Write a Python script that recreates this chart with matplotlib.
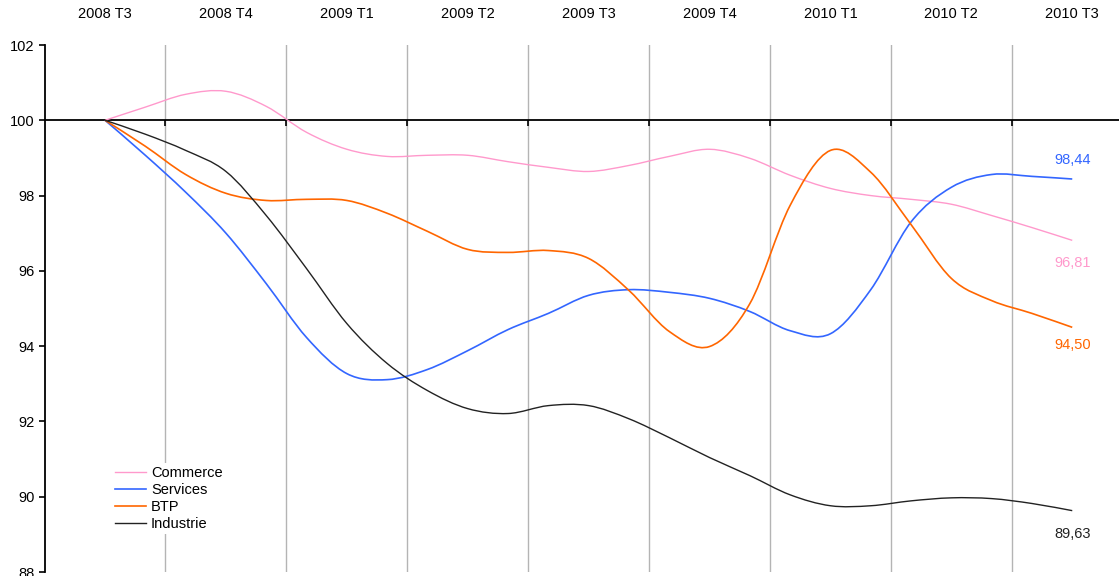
import numpy as np
import matplotlib
matplotlib.use("Agg")
import matplotlib.pyplot as plt
from matplotlib.path import Path
from matplotlib.patches import PathPatch
from matplotlib.lines import Line2D

plt.rcParams['font.family'] = ['Liberation Sans', 'DejaVu Sans']

# Trimestres (labels en haut) et mois
quarters = ["2008 T3", "2008 T4", "2009 T1", "2009 T2", "2009 T3",
            "2009 T4", "2010 T1", "2010 T2", "2010 T3"]
months = np.arange(25)

# Indices mensuels (base 100 = 2008 T3)
commerce = [100.00, 100.35, 100.69, 100.77, 100.37, 99.68, 99.23, 99.04, 99.07,
            99.07, 98.90, 98.75, 98.64, 98.80, 99.04, 99.23, 98.99, 98.54,
            98.19, 98.00, 97.90, 97.77, 97.47, 97.15, 96.81]
services = [100.00, 99.07, 98.09, 97.00, 95.66, 94.23, 93.27, 93.11, 93.38,
            93.88, 94.44, 94.87, 95.35, 95.50, 95.43, 95.27, 94.92, 94.41,
            94.33, 95.50, 97.30, 98.22, 98.56, 98.51, 98.44]
btp = [100.00, 99.31, 98.56, 98.06, 97.87, 97.90, 97.87, 97.53, 97.05,
       96.57, 96.49, 96.54, 96.33, 95.48, 94.39, 93.99, 95.13, 97.74,
       99.20, 98.62, 97.23, 95.80, 95.21, 94.87, 94.50]
industrie = [100.00, 99.63, 99.20, 98.64, 97.47, 96.06, 94.60, 93.54, 92.82,
             92.34, 92.21, 92.42, 92.42, 92.07, 91.57, 91.04, 90.56, 90.05,
             89.76, 89.76, 89.89, 89.97, 89.95, 89.82, 89.63]

# nom, valeurs, couleur, epaisseur, decalage du label final (points)
series = [("Commerce", commerce, "#ff99cc", 1.0, -16),
          ("Services", services, "#3366ff", 1.2, 14),
          ("BTP", btp, "#ff6600", 1.2, -13),
          ("Industrie", industrie, "#222222", 1.0, -17)]


def smooth_path(x, y):
    # courbe lissee facon Excel (Bezier Catmull-Rom passant par les points)
    pts = np.column_stack([x, y]).astype(float)
    ext = np.vstack([pts[0], pts, pts[-1]])
    verts = [pts[0]]
    codes = [Path.MOVETO]
    for i in range(len(pts) - 1):
        p0, p1, p2, p3 = ext[i], ext[i + 1], ext[i + 2], ext[i + 3]
        verts += [p1 + (p2 - p0) / 6, p2 - (p3 - p1) / 6, p2]
        codes += [Path.CURVE4] * 3
    return Path(verts, codes)


fig = plt.figure(figsize=(11.19, 5.76), dpi=100)
ax = fig.add_axes([45 / 1119, 4 / 576, 1 - 45 / 1119, (572 - 45) / 576])

handles = []
for name, vals, col, lw, off in series:
    ax.add_patch(PathPatch(smooth_path(months, vals), fill=False,
                           edgecolor=col, lw=lw, zorder=3))
    handles.append(Line2D([], [], color=col, lw=lw, label=name))
    last = f"{vals[-1]:.2f}".replace(".", ",")
    ax.annotate(last, (months[-1], vals[-1]), xytext=(0, off),
                textcoords="offset points", ha="center", va="center",
                color=col, fontsize=10.5)

ax.set_xlim(-1.49, 25.16)
ax.set_ylim(88, 102)
ax.set_yticks(np.arange(88, 103, 2))

ax.set_xticks(months[::3])
ax.set_xticklabels(quarters)
ax.set_xticks(np.arange(1.5, 24, 3), minor=True)
ax.tick_params(axis="x", which="major", bottom=False, top=False,
               labelbottom=False, labeltop=True, pad=14, labelsize=10.5)
ax.tick_params(axis="x", which="minor", bottom=True, length=4, width=1.2,
               direction="out", color="black")
ax.tick_params(axis="y", labelsize=10.5, length=4, width=1.2)
ax.grid(which="minor", axis="x", color="#b4b4b4", lw=1.0)
ax.set_axisbelow(True)

ax.spines["bottom"].set_position(("data", 100))
ax.spines["bottom"].set_linewidth(1.3)
ax.spines["left"].set_linewidth(1.3)
ax.spines["top"].set_visible(False)
ax.spines["right"].set_visible(False)

leg = ax.legend(handles=handles, loc="upper left",
                bbox_to_anchor=(105 / 1119, 1 - 456 / 576),
                bbox_transform=fig.transFigure, fontsize=10.5, frameon=True,
                handlelength=2.1, labelspacing=0.2, borderpad=0.2,
                handletextpad=0.35)
leg.get_frame().set_facecolor("white")
leg.get_frame().set_edgecolor("none")
leg.get_frame().set_alpha(1)
leg.set_zorder(5)

fig.savefig("out.png", dpi=100)
